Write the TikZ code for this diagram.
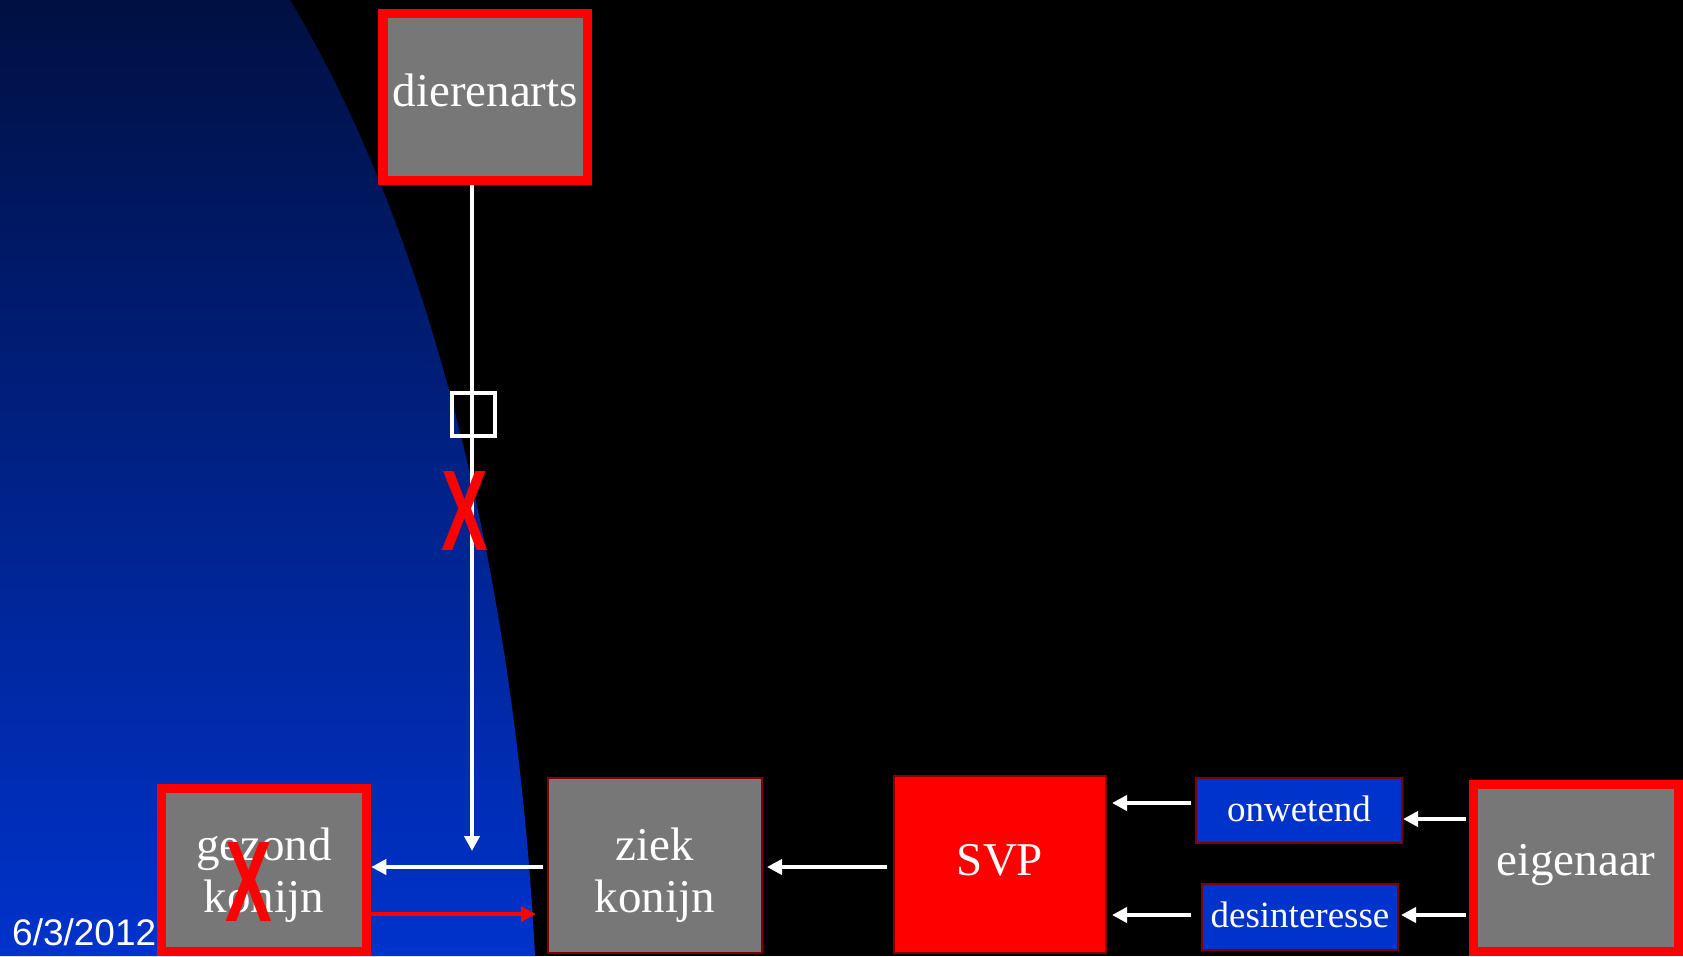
\documentclass[tikz,border=0pt]{standalone}
\usepackage{fontspec}
\setmainfont{Liberation Serif}
\newfontfamily\sansf{Liberation Sans}
\usetikzlibrary{arrows.meta,calc}
\definecolor{boxgrey}{RGB}{119,119,119}
\definecolor{boxred}{RGB}{255,0,0}
\definecolor{darkedge}{RGB}{128,0,0}
\definecolor{boxblue}{RGB}{0,51,204}
\definecolor{navytop}{RGB}{0,16,66}
\definecolor{bluebot}{RGB}{0,51,204}
\tikzset{
  bigtext/.style={text=white,font=\fontsize{47}{52}\selectfont,align=center,inner sep=0pt,text height=30pt},
  redframe/.style={bigtext,fill=boxgrey,draw=boxred,line width=9.5pt},
  thinbox/.style={bigtext,draw=darkedge,line width=2pt},
  smalltext/.style={text=white,font=\fontsize{37}{42}\selectfont,align=center,inner sep=0pt,text height=30pt,text depth=9pt,draw=darkedge,line width=2pt,fill=boxblue},
  arr/.style={white,line width=4pt,-{Triangle[length=15pt,width=15pt]}},
  redarr/.style={boxred,line width=4pt,-{Triangle[length=15pt,width=15pt]}},
  crossmark/.style={text=boxred,font=\sansf\bfseries\fontsize{70}{70}\selectfont,inner sep=0pt,yscale=1.64},
}
\begin{document}
\begin{tikzpicture}[x=1pt,y=-1pt]
\useasboundingbox (0,0) rectangle (1683,956);
\fill[black] (0,0) rectangle (1683,956);
\shade[top color=navytop,bottom color=bluebot]
  (0,0) -- (290,0) .. controls (440,250) and (517,606) .. (535,956) -- (0,956) -- cycle;

% nodes
\node[redframe,text depth=12pt,minimum width=204.5pt,minimum height=167pt] (dier) at (485.25,97) {dierenarts};
\node[redframe,text height=90pt,text depth=6pt,minimum width=205pt,minimum height=163pt] (gez) at (264,870) {gezond\\konijn};
\node[redframe,text depth=16pt,minimum width=205pt,minimum height=167pt] (eig) at (1576,868) {eigenaar};
\node[thinbox,text height=99pt,text depth=6pt,fill=boxgrey,minimum width=214pt,minimum height=175pt] (ziek) at (655,865.5) {ziek\\konijn};
\node[thinbox,text depth=9pt,fill=boxred,minimum width=212pt,minimum height=177pt] (svp) at (1000,864.5) {SVP};
\node[smalltext,minimum width=206pt,minimum height=65pt] (onw) at (1299,810.5) {onwetend};
\node[smalltext,minimum width=196pt,minimum height=66pt] (des) at (1300,917) {desinteresse};
\node[draw=white,line width=4pt,minimum width=43pt,minimum height=43pt,inner sep=0pt] (sq) at (473.5,414.5) {};

\node[anchor=base west,text=white,font=\sansf\fontsize{37}{42}\selectfont,inner sep=0pt] (date) at (12,945) {6/3/2012};

% connectors
\coordinate (vend) at (472,851);
\draw[arr] (dier.south -| vend) -- (vend);
\draw[arr,shorten <=4pt] ([yshift=-1.5pt]ziek.west) -- ([yshift=-1.5pt]ziek.west -| gez.east) ;
\draw[redarr,shorten >=11pt] ([yshift=-44pt]gez.east) -- ([yshift=-44pt]gez.east -| ziek.west);
\draw[arr,shorten <=6pt,shorten >=4pt] ([yshift=-2.5pt]svp.west) -- ([yshift=-2.5pt]svp.west -| ziek.east);
\draw[arr,shorten <=4pt,shorten >=5pt] ([yshift=7.5pt]onw.west) -- ([yshift=7.5pt]onw.west -| svp.east);
\draw[arr,shorten <=10pt,shorten >=5pt] ([yshift=2pt]des.west) -- ([yshift=2pt]des.west -| svp.east);
\draw[arr,shorten <=3pt] ([yshift=-8.5pt]onw.east -| eig.west) -- ([yshift=-8.5pt]onw.east);
\draw[arr,shorten <=3pt,shorten >=2pt] ([yshift=2pt]des.east -| eig.west) -- ([yshift=2pt]des.east);

% crosses
\node[crossmark] (x1) at (464.5,511) {X};
\node[crossmark] (x2) at (248.5,881.5) {X};
\end{tikzpicture}
\end{document}
